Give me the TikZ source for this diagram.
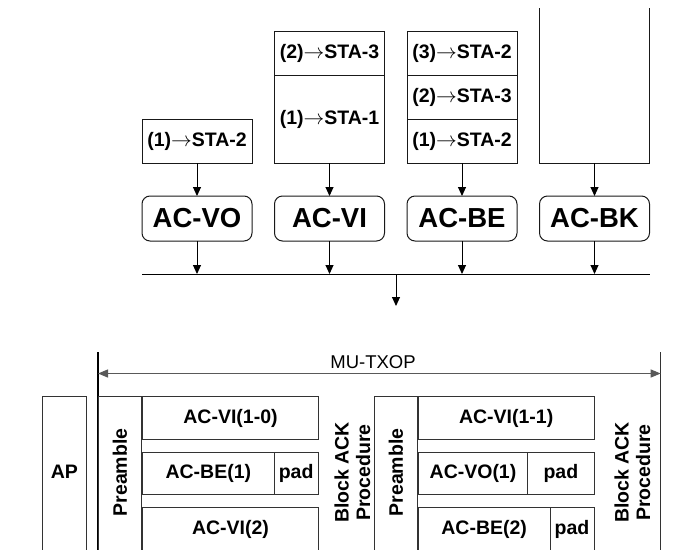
\documentclass[tikz,border=0pt]{standalone}
\usepackage{fontspec}
\setmainfont{Liberation Sans}
\usetikzlibrary{positioning,arrows.meta}

\begin{document}
\begin{tikzpicture}[x=1pt, y=-1pt, node distance=22.5pt,
			queue/.style={rectangle, draw=black!90, line width=1pt, minimum width=110pt, minimum height=44pt, inner sep=0pt, outer sep=0pt, font=\bfseries\fontsize{19.5}{21}\selectfont},
			acbox/.style={rectangle, draw=black!90, line width=1pt, rounded corners=8pt, minimum width=110pt, minimum height=45pt, inner sep=0pt, outer sep=0pt, font=\bfseries\fontsize{27.5}{29}\selectfont},
			cell/.style={rectangle, draw=black!80, line width=1pt, anchor=north west, minimum height=42.6pt, inner sep=0pt, outer sep=0pt, font=\bfseries\fontsize{19.5}{21}\selectfont},
			vtext/.style={rotate=90, align=center, inner sep=0pt, font=\bfseries\fontsize{19.5}{21.5}\selectfont},
			arrow/.style={-{Triangle[length=9pt, width=8pt]}, line width=1pt}]

			\useasboundingbox (0,0) rectangle (695,549);
			\clip (0,0) rectangle (695,549);

			% access categories
			\node[acbox] (vo) at (197,218.5) {AC-VO};
			\node[acbox, right=of vo] (vi) {AC-VI};
			\node[acbox, right=of vi] (be) {AC-BE};
			\node[acbox, right=of be] (bk) {AC-BK};

			% queues
			\node[queue, above=33pt of vo] (qvo1) {(1)$\rightarrow$STA-2};
			\node[queue, minimum height=88pt, above=33pt of vi] (qvi1) {(1)$\rightarrow$STA-1};
			\node[queue, above=0pt of qvi1] (qvi2) {(2)$\rightarrow$STA-3};
			\node[queue, above=33pt of be] (qbe1) {(1)$\rightarrow$STA-2};
			\node[queue, above=0pt of qbe1] (qbe2) {(2)$\rightarrow$STA-3};
			\node[queue, above=0pt of qbe2] (qbe3) {(3)$\rightarrow$STA-2};
			\coordinate[above=33pt of bk] (qbk);
			\draw[line width=1pt, draw=black!90] ([shift={(-55,-155)}]qbk) -- ([xshift=-55pt]qbk) -- ([xshift=55pt]qbk) -- ([shift={(55,-155)}]qbk);

			\draw[arrow] (qvo1) -- (vo);
			\draw[arrow] (qvi1) -- (vi);
			\draw[arrow] (qbe1) -- (be);
			\draw[arrow] (qbk) -- (bk);

			% bus
			\coordinate (busL) at (142,274);
			\coordinate (busR) at (650,274);
			\coordinate (busout) at (396,274);
			\coordinate (mux) at (396,306);
			\draw[line width=1pt] (busL) -- (busR);
			\foreach \q in {vo,vi,be,bk}
				\draw[arrow] (\q) -- (\q |- busL);
			\draw[arrow] (busout) -- (mux);

			% MU-TXOP
			\coordinate (txL) at (98,352);
			\coordinate (txR) at (660.7,352);
			\coordinate (txLb) at (98,560);
			\coordinate (txRb) at (660.7,560);
			\coordinate (txa) at (98,373.5);
			\coordinate (txb) at (660.7,373.5);
			\draw[line width=1.4pt] (txL) -- (txLb);
			\draw[line width=1pt, black!80] (txR) -- (txRb);
			\draw[{Triangle[length=10pt, width=8pt]}-{Triangle[length=10pt, width=8pt]}, line width=1.2pt, black!65] (txa) -- (txb);
			\node[font=\fontsize{18.5}{20}\selectfont] (mutxop) at (373,362) {MU-TXOP};

			% AP and preambles
			\node[cell, minimum width=43.3pt, minimum height=170pt] (ap) at (42.7,396.7) {};
			\node[font=\bfseries\fontsize{19.5}{21}\selectfont] (aptxt) at ([yshift=-75.5pt]ap.north) {AP};
			\node[cell, minimum width=43pt, minimum height=170pt] (pre1) at (98,396.7) {};
			\node[vtext] (pre1txt) at (120,472.5) {Preamble};
			\node[cell, minimum width=43.3pt, minimum height=170pt] (pre2) at (374,396.7) {};
			\node[vtext] (pre2txt) at (396,472.5) {Preamble};

			% first frame
			\node[cell, minimum width=175.6pt] (dvi10) at (142.7,396.7) {AC-VI(1-0)};
			\node[cell, minimum width=131.3pt] (dbe1) at (142.7,452.3) {AC-BE(1)};
			\node[cell, minimum width=44.3pt, right=0pt of dbe1] (pad1) {pad};
			\node[cell, minimum width=175.6pt, minimum height=44pt] (dvi2) at (142.7,507.3) {AC-VI(2)};
			\node[vtext] (back1) at (352.5,472.5) {Block ACK\\Procedure};

			% second frame
			\node[cell, minimum width=175.7pt] (dvi11) at (418.3,396.7) {AC-VI(1-1)};
			\node[cell, minimum width=109.4pt] (dvo1) at (418.3,452.3) {AC-VO(1)};
			\node[cell, minimum width=66.3pt, right=0pt of dvo1] (pad2) {pad};
			\node[cell, minimum width=131.7pt, minimum height=44pt] (dbe2) at (418.3,507.3) {AC-BE(2)};
			\node[cell, minimum width=44pt, minimum height=44pt, right=0pt of dbe2] (pad3) {pad};
			\node[vtext] (back2) at (632.5,472.5) {Block ACK\\Procedure};
		\end{tikzpicture}
\end{document}
